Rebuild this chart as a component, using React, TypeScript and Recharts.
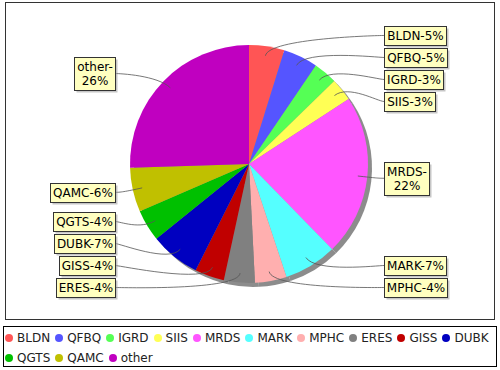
import { PieChart, Pie, Cell, Legend } from 'recharts'

const categories = ['BLDN', 'QFBQ', 'IGRD', 'SIIS', 'MRDS', 'MARK', 'MPHC', 'ERES', 'GISS', 'DUBK', 'QGTS', 'QAMC', 'other']
const shares = [4.8, 4.7, 3.2, 3.1, 21.9, 7.2, 4.3, 4.2, 4.0, 6.8, 4.3, 6.0, 25.5]
const colors = ['#FF5555', '#5555FF', '#55FF55', '#FFFF55', '#FF55FF', '#55FFFF', '#FFAFAF', '#808080', '#C00000', '#0000C0', '#00C000', '#C0C000', '#C000C0']

const data = categories.map((name, i) => ({ name, value: shares[i] }))

const CX = 249
const CY = 164
const R = 119
const SHADOW = 4
const LINK_R = 130
const GAP = 3
const FONT = '"DejaVu Sans", Verdana, sans-serif'

let ctx: CanvasRenderingContext2D | null = null
function textWidth(s: string) {
  if (!ctx) ctx = document.createElement('canvas').getContext('2d')
  if (!ctx) return s.length * 7.5
  ctx.font = `12px ${FONT}`
  return ctx.measureText(s).width
}

type Box = { lines: string[]; w: number; h: number; y: number; theta: number; right: boolean }

// labels sit at their slice's angle, then get pushed apart (like jfreechart's distributor)
function spread(items: Box[], top: number, bottom: number) {
  items.sort((a, b) => a.y - b.y)
  const pitch = (a: Box, b: Box) => (a.h + b.h) / 2 + GAP
  for (let i = 1; i < items.length; i++) items[i].y = Math.max(items[i].y, items[i - 1].y + pitch(items[i - 1], items[i]))
  const n = items.length
  if (n) items[n - 1].y = Math.min(items[n - 1].y, bottom - items[n - 1].h / 2)
  for (let i = n - 2; i >= 0; i--) items[i].y = Math.min(items[i].y, items[i + 1].y - pitch(items[i], items[i + 1]))
  if (n) items[0].y = Math.max(items[0].y, top + items[0].h / 2)
  for (let i = 1; i < n; i++) items[i].y = Math.max(items[i].y, items[i - 1].y + pitch(items[i - 1], items[i]))
}

function layoutLabels(): Box[] {
  const total = shares.reduce((a, b) => a + b, 0)
  let acc = 0
  const boxes = shares.map((v, i) => {
    const mid = (acc + v / 2) / total
    acc += v
    const theta = Math.PI / 2 - mid * 2 * Math.PI
    const pct = Math.round((v / total) * 100)
    const full = `${categories[i]}-${pct}%`
    const lines = full.length > 7 ? [`${categories[i]}-`, `${pct}%`] : [full]
    return {
      lines,
      w: Math.round(Math.max(...lines.map(textWidth)) + 5),
      h: lines.length * 14 + 5,
      theta,
      right: Math.cos(theta) >= 0,
      y: CY - Math.sin(theta) * LINK_R,
    }
  })
  spread(boxes.filter((b) => b.right), 20, 297)
  spread(boxes.filter((b) => !b.right), 20, 297)
  return boxes
}

const boxes = layoutLabels()

function renderLabel(props: any) {
  const { cx, cy, outerRadius, index } = props
  const b = boxes[index]
  if (!b) return null
  const c = Math.cos(b.theta)
  const s = Math.sin(b.theta)
  const lx = cx + c * outerRadius * 0.92
  const ly = cy - s * outerRadius * 0.92
  const ex = cx + c * outerRadius * 1.07
  const ey = cy - s * outerRadius * 1.07
  const anchorX = b.right ? cx + outerRadius + 10 : cx - outerRadius - 10
  const targetX = b.right ? cx + outerRadius + 16 : cx - outerRadius - 15
  const left = Math.round(b.right ? targetX : targetX - b.w) + 0.5
  const top = Math.round(b.y - b.h / 2) + 0.5
  return (
    <g>
      <path
        d={`M${lx},${ly} C${ex},${ey} ${anchorX},${b.y} ${targetX},${b.y}`}
        fill="none"
        stroke="#555"
        strokeWidth={0.8}
      />
      <rect x={left + 2} y={top + 2} width={b.w} height={b.h} fill="rgba(151,151,151,0.55)" />
      <rect x={left} y={top} width={b.w} height={b.h} fill="#FFFFC0" stroke="#333" strokeWidth={1} />
      <text fontFamily={FONT} fontSize={12} fill="#000" textAnchor="middle">
        {b.lines.map((t, i) => (
          <tspan key={i} x={left + b.w / 2} y={top + 13.5 + i * 14}>
            {t}
          </tspan>
        ))}
      </text>
    </g>
  )
}

function renderLegend(props: any) {
  const items = (props.payload ?? [])
    .filter((p: any) => p.type !== 'none')
    .slice()
    .sort((a: any, b: any) => categories.indexOf(a.value) - categories.indexOf(b.value))
  return (
    <div
      style={{
        boxSizing: 'border-box',
        width: 494,
        height: 41,
        border: '1px solid #000',
        padding: '1px 1px',
        display: 'flex',
        flexWrap: 'wrap',
        alignContent: 'flex-start',
        fontFamily: FONT,
        fontSize: 12,
        color: '#222',
        background: '#fff',
      }}
    >
      {items.map((p: any) => (
        <span key={p.value} style={{ display: 'inline-flex', alignItems: 'center', height: 20, marginRight: 5 }}>
          <span style={{ width: 8, height: 8, borderRadius: '50%', background: p.color, marginRight: 4 }} />
          {p.value}
        </span>
      ))}
    </div>
  )
}

export default function App() {
  return (
    <div style={{ position: 'absolute', left: 0, top: 0, width: 500, height: 370, background: '#fff' }}>
      <div
        style={{
          position: 'absolute',
          left: 5,
          top: 2,
          width: 490,
          height: 318,
          boxSizing: 'border-box',
          border: '1px solid #333',
        }}
      />
      <div style={{ position: 'absolute', left: 0, top: 0 }}>
        <PieChart width={500} height={370} margin={{ top: 0, right: 0, bottom: 0, left: 0 }}>
          <Pie
            data={data}
            dataKey="value"
            nameKey="name"
            cx={CX + SHADOW}
            cy={CY + SHADOW}
            outerRadius={R}
            startAngle={90}
            endAngle={-270}
            fill="#8c8c8c"
            stroke="none"
            legendType="none"
            isAnimationActive={false}
          />
          <Pie
            data={data}
            dataKey="value"
            nameKey="name"
            cx={CX}
            cy={CY}
            outerRadius={R}
            startAngle={90}
            endAngle={-270}
            stroke="none"
            label={renderLabel}
            labelLine={false}
            isAnimationActive={false}
          >
            {data.map((d, i) => (
              <Cell key={d.name} fill={colors[i]} />
            ))}
          </Pie>
          <Legend
            verticalAlign="bottom"
            content={renderLegend}
            wrapperStyle={{ left: 3, top: 326, width: 494, height: 41, bottom: 'auto' }}
          />
        </PieChart>
      </div>
    </div>
  )
}
